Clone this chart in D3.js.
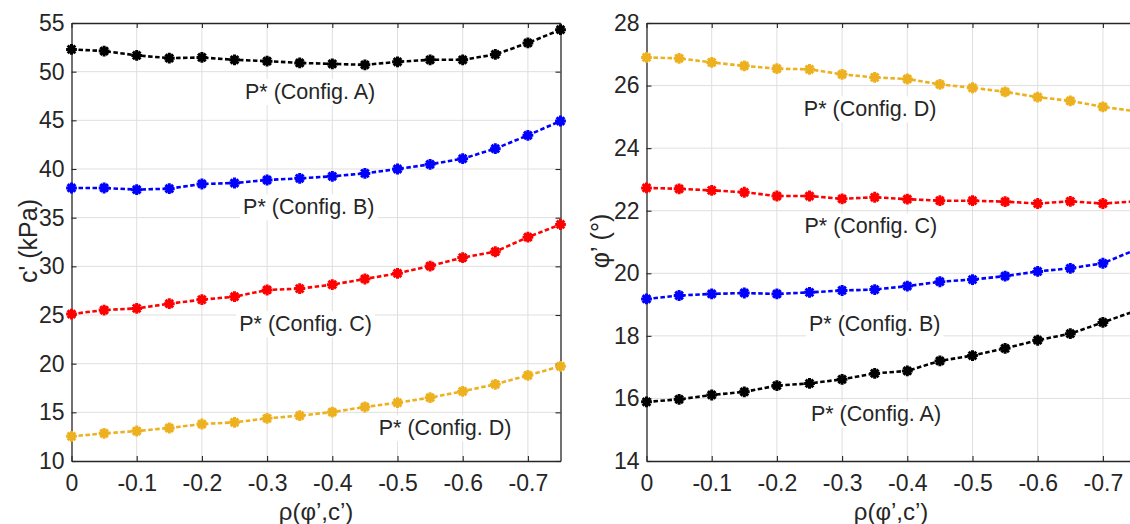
<!DOCTYPE html>
<html>
<head>
<meta charset="utf-8">
<script src="https://cdn.jsdelivr.net/npm/d3@7"></script>
<style>
  html, body { margin: 0; padding: 0; background: #fff; }
  svg { display: block; font-family: "Liberation Sans", Arial, sans-serif; }
</style>
</head>
<body>
<svg id="chart" width="1130" height="524"></svg>
<script>
// ---------- data ----------
const rho = [0, -0.05, -0.1, -0.15, -0.2, -0.25, -0.3, -0.35, -0.4, -0.45, -0.5, -0.55, -0.6, -0.65, -0.7, -0.75];

// c' (kPa)
const cA = [52.29, 52.12, 51.67, 51.39, 51.46, 51.22, 51.08, 50.90, 50.80, 50.70, 51.01, 51.22, 51.22, 51.77, 52.95, 54.31];
const cB = [38.05, 38.05, 37.88, 37.98, 38.46, 38.56, 38.87, 39.04, 39.25, 39.55, 40.00, 40.48, 41.06, 42.09, 43.46, 44.93];
const cC = [25.10, 25.51, 25.68, 26.16, 26.58, 26.88, 27.57, 27.71, 28.12, 28.70, 29.28, 30.03, 30.90, 31.50, 33.00, 34.30];
const cD = [12.53, 12.84, 13.08, 13.39, 13.80, 13.97, 14.38, 14.66, 15.03, 15.55, 15.99, 16.51, 17.16, 17.88, 18.80, 19.73];

// phi' (deg)
const phiA = [15.89, 15.97, 16.11, 16.21, 16.41, 16.48, 16.61, 16.80, 16.88, 17.20, 17.37, 17.60, 17.86, 18.07, 18.43, 18.80];
const phiB = [19.18, 19.29, 19.34, 19.37, 19.34, 19.39, 19.45, 19.48, 19.59, 19.73, 19.80, 19.91, 20.06, 20.16, 20.32, 20.75];
const phiC = [22.73, 22.70, 22.65, 22.59, 22.47, 22.47, 22.38, 22.43, 22.37, 22.32, 22.32, 22.29, 22.23, 22.30, 22.23, 22.30];
const phiD = [26.90, 26.87, 26.74, 26.63, 26.54, 26.52, 26.36, 26.26, 26.21, 26.04, 25.93, 25.80, 25.63, 25.51, 25.32, 25.18];

const configNames = ["A", "B", "C", "D"];
const xTicks = [0, -0.1, -0.2, -0.3, -0.4, -0.5, -0.6, -0.7];
const xTickLabels = ["0", "-0.1", "-0.2", "-0.3", "-0.4", "-0.5", "-0.6", "-0.7"];
const cTicks = [10, 15, 20, 25, 30, 35, 40, 45, 50, 55];
const phiTicks = [14, 16, 18, 20, 22, 24, 26, 28];

// ---------- styling ----------
const colors = { A: "#000000", B: "#0000ff", C: "#ff0000", D: "#edb120" };
const axisColor = "#262626";
const gridColor = "#dfdfdf";

const svg = d3.select("#chart");

function asteriskPath(r) {
  const d = r * Math.SQRT1_2;
  return `M${-r},0L${r},0M0,${-r}L0,${r}M${-d},${-d}L${d},${d}M${-d},${d}L${d},${-d}`;
}

function drawPanel(opt) {
  const g = svg.append("g");
  const x = d3.scaleLinear().domain([0, -0.75]).range([opt.left, opt.left + 489]);
  const y = d3.scaleLinear().domain(opt.yDomain).range([461, 23]);
  const x0 = x.range()[0], x1 = x.range()[1];
  const y0 = y.range()[0], y1 = y.range()[1];

  // grid
  g.append("g").selectAll("line").data(xTicks.slice(1)).join("line")
    .attr("x1", d => x(d)).attr("x2", d => x(d)).attr("y1", y1).attr("y2", y0)
    .attr("stroke", gridColor).attr("stroke-width", 1);
  g.append("g").selectAll("line").data(opt.yTicks.slice(1, -1)).join("line")
    .attr("x1", x0).attr("x2", x1).attr("y1", d => y(d)).attr("y2", d => y(d))
    .attr("stroke", gridColor).attr("stroke-width", 1);

  // axes with inward ticks (box on all four sides)
  const ax = g.append("g").attr("transform", `translate(0,${y0})`)
    .call(d3.axisBottom(x).tickValues(xTicks).tickFormat((d, i) => xTickLabels[i])
      .tickSizeInner(-5).tickSizeOuter(0).tickPadding(14));
  const axTop = g.append("g").attr("transform", `translate(0,${y1})`)
    .call(d3.axisTop(x).tickValues(xTicks).tickFormat("").tickSizeInner(-5).tickSizeOuter(0));
  const ay = g.append("g").attr("transform", `translate(${x0},0)`)
    .call(d3.axisLeft(y).tickValues(opt.yTicks).tickFormat(d3.format("d"))
      .tickSizeInner(-5).tickSizeOuter(0).tickPadding(7));
  const ayR = g.append("g").attr("transform", `translate(${x1},0)`)
    .call(d3.axisRight(y).tickValues(opt.yTicks).tickFormat("").tickSizeInner(-5).tickSizeOuter(0));
  [ax, axTop, ay, ayR].forEach(a => {
    a.selectAll("path.domain").attr("stroke", axisColor).attr("stroke-width", 1.3).attr("fill", "none");
    a.selectAll(".tick line").attr("stroke", axisColor).attr("stroke-width", 1.1);
    a.selectAll(".tick text").attr("fill", axisColor).style("font-size", "23px")
      .style("font-family", "'Liberation Sans', Arial, sans-serif");
  });

  // series
  const line = d3.line().x(d => x(d[0])).y(d => y(d[1]));
  opt.series.forEach((vals, i) => {
    const col = colors[configNames[i]];
    const pts = rho.map((r, j) => [r, vals[j]]);
    g.append("path").datum(pts).attr("d", line)
      .attr("fill", "none").attr("stroke", col).attr("stroke-width", 2.6)
      .attr("stroke-dasharray", "4.5,2.5");
    g.append("g").selectAll("path").data(pts).join("path")
      .attr("transform", d => `translate(${x(d[0])},${y(d[1])})`)
      .attr("d", asteriskPath(5.4))
      .attr("stroke", col).attr("stroke-width", 3).attr("fill", "none");
  });

  // annotations with white background boxes
  opt.notes.forEach(n => {
    const t = g.append("text")
      .attr("x", x(n.x)).attr("y", y(n.y)).attr("dy", "0.3em")
      .attr("text-anchor", "middle").attr("fill", axisColor)
      .style("font-size", "21.5px")
      .text(`P* (Config. ${n.name})`);
    const bb = t.node().getBBox();
    g.insert("rect", () => t.node())
      .attr("x", bb.x - 3).attr("y", bb.y - 1).attr("width", bb.width + 6).attr("height", bb.height + 2)
      .attr("fill", "#fff");
  });

  // axis titles
  g.append("text")
    .attr("x", (x0 + x1) / 2).attr("y", 513).attr("dy", "0.3em")
    .attr("text-anchor", "middle").attr("fill", axisColor).style("font-size", "24px")
    .text("ρ(φ’,c’)");
  g.append("text")
    .attr("transform", `translate(${opt.yTitleX},241) rotate(-90)`)
    .attr("dy", "0.35em")
    .attr("text-anchor", "middle").attr("fill", axisColor).style("font-size", "25px")
    .text(opt.yTitle);
}

drawPanel({
  left: 71.5,
  yDomain: [10, 55],
  yTicks: cTicks,
  series: [cA, cB, cC, cD],
  yTitle: "c' (kPa)",
  yTitleX: 28,
  notes: [
    { name: "A", x: -0.366, y: 47.85 },
    { name: "B", x: -0.364, y: 36.0 },
    { name: "C", x: -0.359, y: 24.0 },
    { name: "D", x: -0.573, y: 13.3 }
  ]
});

drawPanel({
  left: 646.5,
  yDomain: [14, 28],
  yTicks: phiTicks,
  series: [phiA, phiB, phiC, phiD],
  yTitle: "φ’ (°)",
  yTitleX: 600,
  notes: [
    { name: "A", x: -0.352, y: 15.47 },
    { name: "B", x: -0.350, y: 18.35 },
    { name: "C", x: -0.344, y: 21.48 },
    { name: "D", x: -0.343, y: 25.22 }
  ]
});
</script>
</body>
</html>
